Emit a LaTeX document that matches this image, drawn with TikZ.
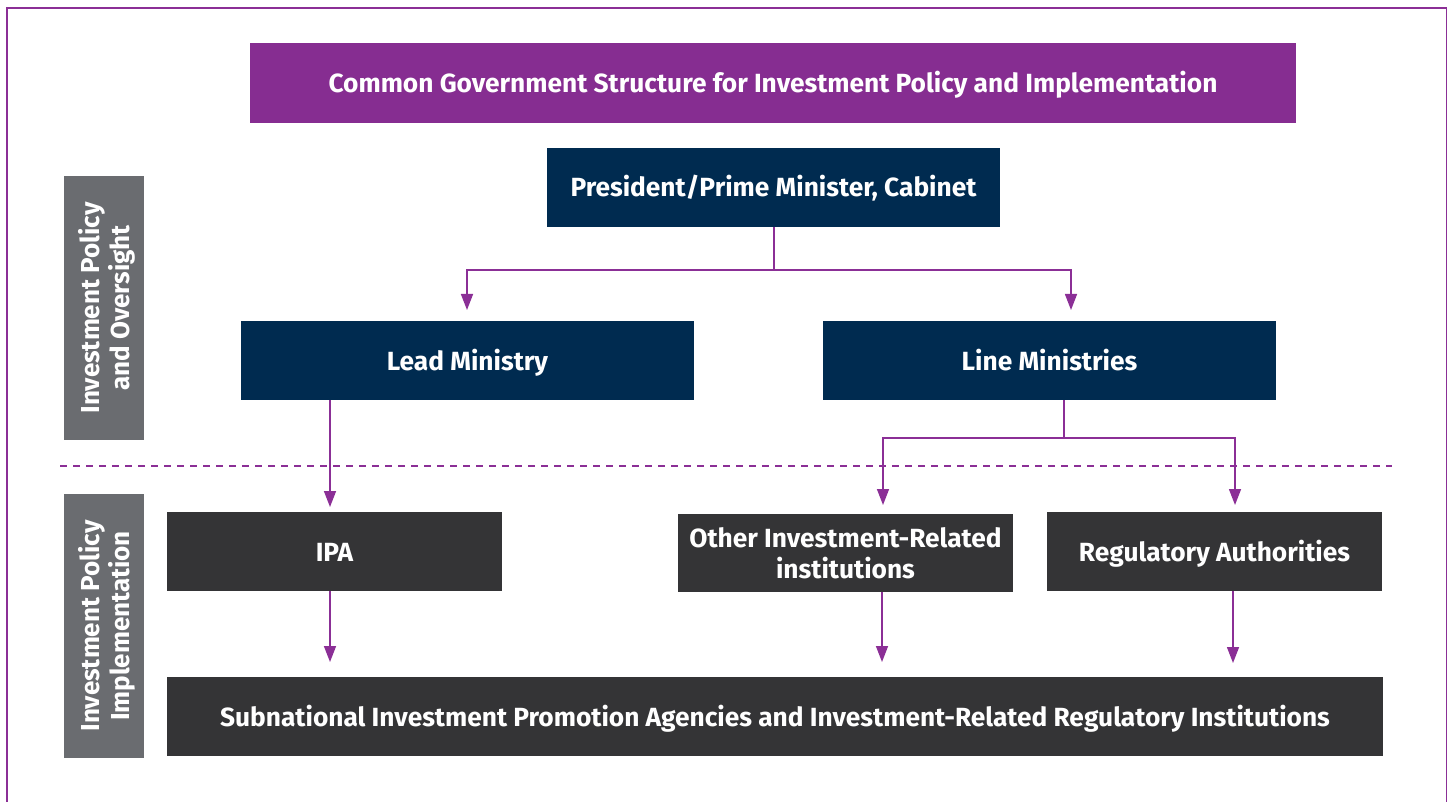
\documentclass[tikz,border=0pt]{standalone}
\usepackage{fontspec}
\setmainfont{Fira Sans}
\usetikzlibrary{arrows.meta}
\definecolor{cpurple}{HTML}{862D91}
\definecolor{cline}{HTML}{8B2F96}
\definecolor{cnavy}{HTML}{002B50}
\definecolor{cdark}{HTML}{343436}
\definecolor{cside}{HTML}{6A6C70}
\tikzset{
  box/.style={draw=none, text=white, font=\bfseries\fontsize{26.3}{31}\selectfont, align=center, inner sep=0pt, anchor=base},
  titlebox/.style={fill=cpurple},
  navybox/.style={fill=cnavy},
  darkbox/.style={fill=cdark},
  sidebox/.style={fill=cside},
  sidetext/.style={draw=none, text=white, align=center, inner sep=0pt, rotate=90, font=\bfseries\fontsize{26}{30}\selectfont},
  conn/.style={draw=cline, line width=1.5pt},
  arr/.style={conn, -{Triangle[width=12pt,length=16pt]}},
}
\begin{document}
\begin{tikzpicture}[x=1pt,y=-1pt]
\useasboundingbox (0,0) rectangle (1448,802);
\fill[white] (0,0) rectangle (1448,802);
\begin{scope}
\clip (0,0) rectangle (1448,802);
\draw[cline, line width=1.5pt] (7,8) rectangle (1446.5,820);
\end{scope}
% boxes
\path[titlebox] (250,43) rectangle (1296,123);
\node[box] (title) at (773,92.5) {Common Government Structure for Investment Policy and Implementation};
\path[navybox] (547,148) rectangle (1000,227);
\node[box] (pres) at (773.5,197) {President/Prime Minister, Cabinet};
\coordinate (presS) at (774,227);
\path[navybox] (241,321) rectangle (694,400);
\node[box] (lead) at (467.5,370) {Lead Ministry};
\path[navybox] (823,321) rectangle (1276,400);
\node[box] (line) at (1049.5,370) {Line Ministries};
\path[sidebox] (64,176) rectangle (144,440);
\node[sidetext] (side1) at (107,308) {Investment Policy\\and Oversight};
\path[sidebox] (64,494) rectangle (144,758);
\node[sidetext] (side2) at (107,626) {Investment Policy\\Implementation};
\path[darkbox] (167,512) rectangle (502,591);
\node[box] (ipa) at (334.5,561) {IPA};
\path[darkbox] (678,514) rectangle (1013,592);
\node[box] (other) at (845.5,578) {Other Investment-Related\\institutions};
\path[darkbox] (1047,512) rectangle (1382,591);
\node[box] (reg) at (1214.5,561) {Regulatory Authorities};
\path[darkbox] (167,677) rectangle (1383,756);
\node[box] (sub) at (775,726) {Subnational Investment Promotion Agencies and Investment-Related Regulatory Institutions};
% dashed separator
\coordinate (dashL) at (60,466);
\coordinate (dashR) at (1392,466);
\draw[cline, line width=1.3pt, dash pattern=on 7pt off 6pt] (dashL) -- (dashR);
% connectors
\coordinate (pj) at (774,270);
\coordinate (leadT) at (467,310);
\coordinate (lineT) at (1071,310);
\draw[conn] (presS) -- (pj);
\draw[arr] (pj) -| (leadT);
\draw[arr] (pj) -| (lineT);
\coordinate (leadS) at (330,400);
\coordinate (ipaT) at (330,507);
\draw[arr] (leadS) -- (ipaT);
\coordinate (lineS) at (1064,400);
\coordinate (lj) at (1064,438);
\coordinate (otherT) at (883,505);
\coordinate (regT) at (1235,505);
\draw[conn] (lineS) -- (lj);
\draw[arr] (lj) -| (otherT);
\draw[arr] (lj) -| (regT);
\coordinate (ipaS) at (330,591);
\coordinate (sub1) at (330,662);
\draw[arr] (ipaS) -- (sub1);
\coordinate (otherS) at (882,592);
\coordinate (sub2) at (882,662);
\draw[arr] (otherS) -- (sub2);
\coordinate (regS) at (1233,591);
\coordinate (sub3) at (1233,663);
\draw[arr] (regS) -- (sub3);
\end{tikzpicture}
\end{document}
